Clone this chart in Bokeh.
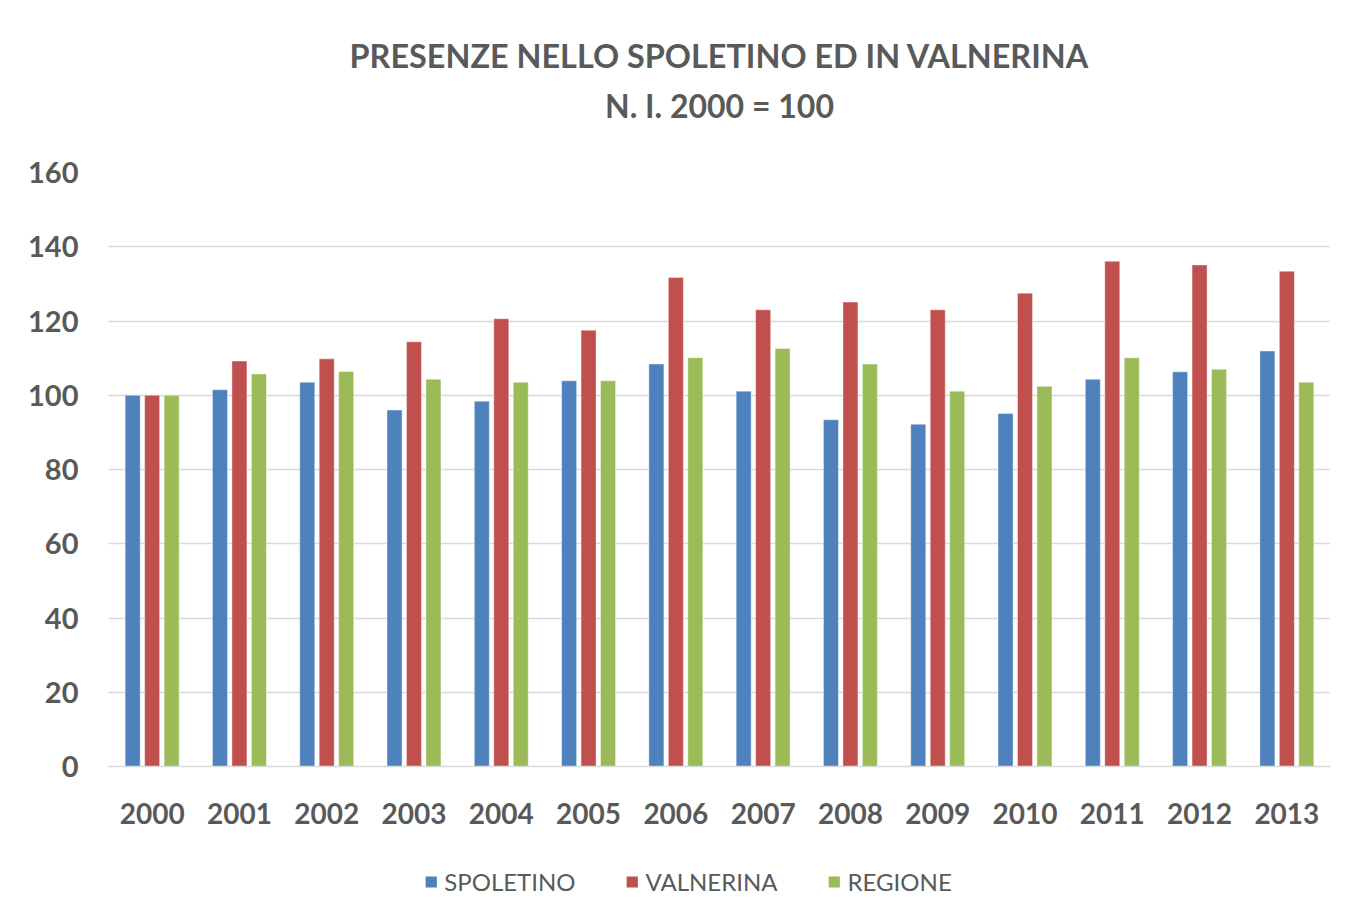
from bokeh.plotting import figure
from bokeh.layouts import column
from bokeh.models import (FactorRange, Range1d, Title, Legend, LegendItem,
                          SingleIntervalTicker, ColumnDataSource)
from bokeh.transform import dodge
from bokeh.embed import file_html
from bokeh.resources import INLINE

years = ["2000", "2001", "2002", "2003", "2004", "2005", "2006",
         "2007", "2008", "2009", "2010", "2011", "2012", "2013"]
spoletino = [100.0, 101.5, 103.5, 96.0, 98.4, 103.9, 108.4,
             101.1, 93.4, 92.2, 95.1, 104.3, 106.3, 111.9]
valnerina = [100.0, 109.2, 109.8, 114.4, 120.6, 117.5, 131.7,
             123.0, 125.1, 123.0, 127.5, 136.1, 135.1, 133.4]
regione = [100.0, 105.7, 106.4, 104.3, 103.5, 103.9, 110.1,
           112.6, 108.4, 101.1, 102.4, 110.1, 107.0, 103.5]
series_names = ["SPOLETINO", "VALNERINA", "REGIONE"]
colors = ["#4F81BD", "#C0504D", "#9BBB59"]

FONT = "Lato"
TXT = "#595959"

src = ColumnDataSource(dict(year=years, s=spoletino, v=valnerina, r=regione))

p = figure(x_range=FactorRange(*years), y_range=Range1d(0, 160),
           frame_width=1222, frame_height=594, output_backend="svg", toolbar_location=None,
           min_border_left=108, min_border_right=21, min_border_top=172,
           min_border_bottom=80)
p.title = None

spacer = Title(text=" ", text_font=FONT, text_font_size="4px", standoff=35)
t2 = Title(text="N. I. 2000 = 100", align="center", text_font=FONT,
           text_font_size="32px", text_font_style="bold", text_color=TXT, standoff=11)
t1 = Title(text="PRESENZE NELLO SPOLETINO ED IN VALNERINA", align="center", text_font=FONT,
           text_font_size="32.4px", text_font_style="bold", text_color=TXT, standoff=7)
p.add_layout(spacer, "above")
p.add_layout(t2, "above")
p.add_layout(t1, "above")

bw = 0.172
off = 0.223
cols = ["s", "v", "r"]
offsets = [-off, 0, off]
for col, dx, c in zip(cols, offsets, colors):
    p.vbar(x=dodge("year", dx, range=p.x_range), top=col, width=bw, source=src,
           fill_color=c, line_color="white", line_alpha=0.4, line_width=1)

p.outline_line_color = None
p.xgrid.grid_line_color = None
p.ygrid.grid_line_color = "#d9d9d9"
p.ygrid.grid_line_width = 1.5
p.yaxis.ticker = SingleIntervalTicker(interval=20)
p.yaxis.axis_line_color = None
p.yaxis.major_tick_line_color = None
p.yaxis.minor_tick_line_color = None
p.yaxis.major_label_standoff = 24
p.xaxis.axis_line_color = "#d9d9d9"
p.xaxis.axis_line_width = 1.5
p.xaxis.major_tick_line_color = None
p.xaxis.minor_tick_line_color = None
p.xaxis.major_label_standoff = 30
for ax in (p.xaxis, p.yaxis):
    ax.major_label_text_font = FONT
    ax.major_label_text_font_style = "bold"
    ax.major_label_text_color = TXT
p.xaxis.major_label_text_font_size = "28px"
p.yaxis.major_label_text_font_size = "29px"

# legend strip below the chart (same series as zero-height bars far outside the view)
leg = figure(width=1351, height=70, output_backend="svg", toolbar_location=None,
             x_range=FactorRange(*years), y_range=Range1d(1000, 1010),
             min_border_left=0, min_border_top=0, min_border_bottom=0,
             min_border_right=84)
leg.axis.visible = False
leg.grid.visible = False
leg.outline_line_color = None
items = []
for n, col, c in zip(series_names, cols, colors):
    r = leg.vbar(x="year", top=col, bottom=col, width=bw, source=src,
                 fill_color=c, line_color=None)
    items.append(LegendItem(label=n, renderers=[r]))
legend = Legend(items=items, orientation="horizontal", location="center",
                label_text_font=FONT, label_text_font_size="24px", label_text_color=TXT,
                glyph_width=14, glyph_height=14, spacing=49, label_standoff=7,
                border_line_color=None, background_fill_alpha=0, margin=0, padding=2)
leg.add_layout(legend, "center")

layout = column(p, leg, spacing=0)
open("out.html", "w").write(file_html(layout, INLINE))
